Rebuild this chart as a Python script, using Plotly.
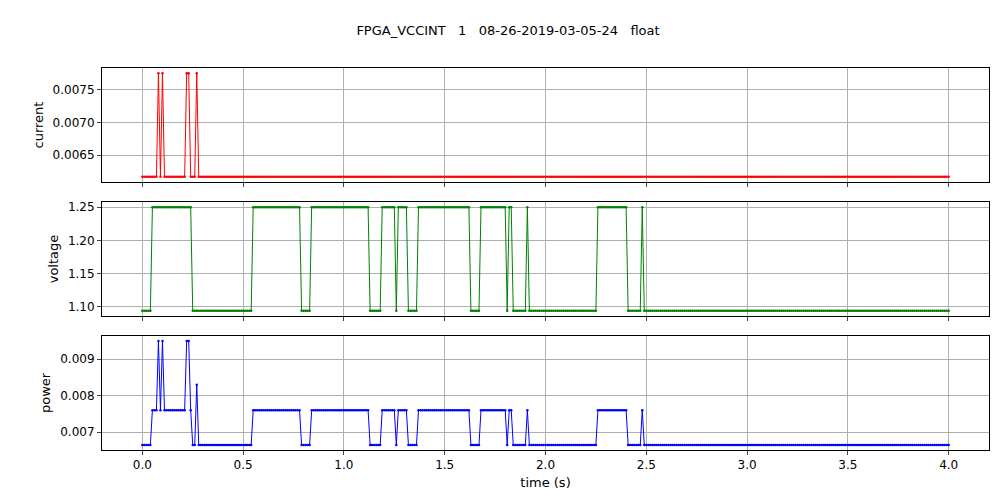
import numpy as np
import plotly.graph_objects as go
from plotly.subplots import make_subplots

# sample times, 10 ms steps
time = np.round(np.arange(0, 401) * 0.01, 2)

I_LOW, I_HIGH = 0.00617, 0.00775
V_LOW, V_HIGH = 1.094, 1.25
P_LOW, P_MID, P_HIGH = 0.00665, 0.0076, 0.0095

# (start, end) inclusive times where the level is high
current_high = [(0.08, 0.08), (0.10, 0.10), (0.22, 0.23), (0.27, 0.27)]
voltage_high = [(0.05, 0.24), (0.55, 0.78), (0.84, 1.12), (1.19, 1.25),
                (1.27, 1.31), (1.37, 1.62), (1.68, 1.80), (1.82, 1.83),
                (1.91, 1.91), (2.26, 2.40), (2.48, 2.48)]
power_special = {0.27: 0.0083}


def in_spans(t, spans):
    return any(a - 1e-9 <= t <= b + 1e-9 for a, b in spans)


current = [I_HIGH if in_spans(t, current_high) else I_LOW for t in time]
voltage = [V_HIGH if in_spans(t, voltage_high) else V_LOW for t in time]
power = []
for t, i, v in zip(time, current, voltage):
    if t in power_special:
        power.append(power_special[t])
    elif i == I_HIGH:
        power.append(P_HIGH)
    elif v == V_HIGH:
        power.append(P_MID)
    else:
        power.append(P_LOW)

fig = make_subplots(rows=3, cols=1, shared_xaxes=True, vertical_spacing=0.052)

for row, (y, color) in enumerate([(current, "red"), (voltage, "green"), (power, "blue")], 1):
    fig.add_trace(go.Scatter(x=time, y=y, mode="lines+markers",
                             line=dict(color=color, width=1),
                             marker=dict(color=color, size=2.5)),
                  row=row, col=1)

axis_style = dict(showline=True, linecolor="black", mirror=True, ticks="outside",
                  ticklen=4, showgrid=True, gridcolor="#b0b0b0", zeroline=False,
                  automargin=False, tickfont=dict(size=12, color="black"))
fig.update_xaxes(range=[-0.2, 4.2], dtick=0.5, tickformat=".1f", **axis_style)
fig.update_xaxes(title_text="time (s)", title_font=dict(size=13),
                 title_standoff=6, row=3, col=1)
fig.update_yaxes(**axis_style)
fig.update_yaxes(title_text="current", range=[0.00609, 0.00783], dtick=0.0005,
                 tickformat=".4f", row=1, col=1)
fig.update_yaxes(title_text="voltage", range=[1.0862, 1.2578], dtick=0.05,
                 tickformat=".2f", row=2, col=1)
fig.update_yaxes(title_text="power", range=[0.00651, 0.00964], dtick=0.001,
                 tickformat=".3f", row=3, col=1)
fig.update_yaxes(title_font=dict(size=13), title_standoff=6)

fig.update_layout(
    title=dict(text="FPGA_VCCINT   1   08-26-2019-03-05-24   float", x=0.5, y=0.965,
               xanchor="center", font=dict(size=13, color="black")),
    width=1000, height=500, showlegend=False,
    plot_bgcolor="white", paper_bgcolor="white",
    font=dict(family="DejaVu Sans", color="black"),
    margin=dict(l=94, r=19, t=60, b=58),
)

fig.write_html("out.html")
